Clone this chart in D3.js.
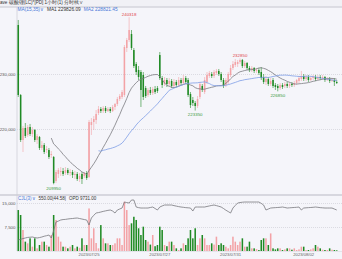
<!DOCTYPE html>
<html>
<head>
<meta charset="utf-8">
<script src="https://cdn.jsdelivr.net/npm/d3@7"></script>
<style>
body { margin: 0; background: #f5f5fa; }
svg { display: block; font-family: "Liberation Sans", Arial, sans-serif; }
</style>
</head>
<body>
<div id="chart"></div>
<script>
// hourly candles
var opens = [238910,226180,218000,220180,218910,220360,219090,219820,218000,218550,
  216550,217090,216180,216180,215270,214910,210550,211820,212180,212360,
  212000,212550,212000,212180,211640,211820,210910,211820,211450,212000,
  211270,220730,221270,221640,222910,223640,223270,223820,223270,223640,
  223270,224000,224550,225450,225820,226180,234730,236180,237270,234360,
  231820,230730,230360,229820,227450,226180,227090,226550,227270,227450,
  233450,229270,228180,228910,228180,228730,227820,228550,228000,228910,
  228360,229270,228910,226360,225270,224730,224180,225820,227820,226730,
  228550,229640,230000,229640,230180,230550,230000,228910,228000,228550,
  229820,231090,231640,231820,232180,232550,231450,232000,231090,230730,
  231090,230550,230730,230360,229450,228550,229090,228180,228910,228000,
  227820,227450,228000,227820,228180,227820,228180,228000,228360,228730,
  229090,229640,229090,229450,228910,229270,229450,229090,229450,229270,
  229450,228910,229090,228730,228910,228550];
var highs = [239820,226360,220550,221090,220730,220910,220360,220000,219090,218730,
  217820,217450,216910,216550,216000,215090,212550,212910,213090,212910,
  213090,212910,212730,212550,212360,212180,212000,212180,212180,212360,
  221640,222000,222360,223450,224180,224000,224180,224180,224000,224000,
  224360,224730,225820,226360,227090,235270,236550,240318,238000,234730,
  232180,231450,230730,230360,227820,227450,227640,227640,227820,227820,
  234000,229640,229450,229270,229270,229090,229090,228910,229450,229270,
  229820,229640,229270,226730,225820,225090,226000,228550,228180,229450,
  230360,230550,230360,230730,230910,230910,230360,229270,229270,230360,
  231640,232360,232730,232550,232850,232730,232360,232180,231450,231450,
  231270,231090,231090,231270,230000,229640,229450,229270,229270,228360,
  228180,228360,228360,228550,228550,228550,228550,228730,229090,229640,
  230550,230000,229820,229820,229640,229820,229820,229820,229820,229820,
  229640,229450,229450,229270,229270,228910];
var lows = [225820,217640,215820,218360,218550,218730,218550,217640,217270,216180,
  216180,215450,215640,214550,214730,209950,210180,211090,211450,211450,
  211640,211640,211450,211090,210910,210550,210360,210000,211090,210730,
  211090,218910,219820,220910,222550,222910,222910,222910,223090,222910,
  223090,223450,224180,225090,225450,225820,234000,235820,234360,231090,
  229820,228910,224000,225270,225640,225820,226180,226180,226360,226550,
  228910,227450,227820,227640,227820,227450,227450,227640,227640,228000,
  228000,228180,225820,223820,224180,223350,223820,225450,226730,226360,
  228180,229270,229270,229270,229820,229640,228550,227450,227640,228180,
  229450,230730,231270,231270,231820,231090,231090,230730,230360,230360,
  230180,230180,229820,228910,228180,228000,227820,227820,227450,227090,
  226850,227090,227270,227450,227450,227450,227640,227640,228000,228360,
  228730,228730,228730,228550,228730,228910,228730,228910,228910,228910,
  228550,228730,228360,228550,227820,228180];
var closes = [226180,218000,220180,218730,220360,219090,219820,218000,218730,216550,
  217090,215820,216360,214910,215450,210180,212180,212550,212360,211820,
  212550,212000,212180,211640,211820,210910,211450,210910,212000,211090,
  221270,221270,221820,222730,223640,223270,223820,223270,223640,223270,
  224000,224550,225450,226000,226730,234910,236180,238000,234730,231450,
  230360,229450,227090,225820,226000,227090,226550,227270,226730,226910,
  229270,228000,228910,228180,228730,227820,228550,228000,228910,228360,
  229270,228550,226180,224360,224730,224180,225450,228180,227090,228910,
  229820,230180,229640,230360,230550,230000,228910,227820,228910,230000,
  231090,231820,232180,232180,232550,231450,232000,231090,230730,231090,
  230550,230730,230180,229270,228550,229090,228180,228730,227820,227640,
  227450,228000,227640,228180,227820,228180,228000,228360,228910,229270,
  229640,229090,229450,228910,229270,229450,229090,229450,229270,229450,
  228910,229090,228730,228910,228550,228360];
var volumes = [12800,11250,6560,2920,2400,3960,1350,3960,830,1875,
  2920,2920,1875,1350,5000,11250,9700,4480,2920,1350,
  1350,830,1350,1875,830,1350,1000,3960,1875,1875,
  13300,3960,7100,2500,830,8100,3960,2400,2400,1875,
  1875,2400,3960,3960,1875,15400,12800,8100,8650,10700,
  9700,7100,5000,7600,3440,2920,2000,5000,1500,1875,
  7600,6560,1875,1500,2920,2920,1875,830,310,830,
  2400,1875,3960,6560,3960,7100,1875,3960,5000,3960,
  1875,1875,2400,2000,4480,1875,2400,1875,1350,830,
  1875,4480,2920,1875,2920,3960,1350,1350,2920,830,
  830,600,310,3440,3960,3960,1875,5500,830,500,
  830,830,310,500,830,830,400,830,310,500,
  1350,1350,310,310,500,830,1875,1350,830,400,
  310,310,830,400,310,200];
var openInt = [56470,56900,57300,57650,58000,58100,58230,57900,57650,57900,
  58230,58700,59000,59410,57650,62000,67060,67600,68230,68500,
  68600,68820,69000,69100,69300,69400,69100,68800,68500,68230,
  65290,69400,71000,72340,72600,72930,73300,73600,73900,74110,
  73500,72340,74110,74700,75280,78810,78500,78220,80000,80000,
  75870,75500,75280,75280,75280,75280,75600,75870,75000,74110,
  75870,76500,77050,77050,77050,77050,76700,76400,76100,75870,
  75700,75500,75400,75280,73520,75870,75870,75870,75870,75870,
  76200,76500,76800,77050,76700,76300,75870,75000,74000,73200,
  72340,75280,76800,78220,78500,78700,78810,78810,78810,78810,
  78810,78810,78810,78000,77050,74110,74700,75280,75400,75500,
  75600,75700,75870,75600,75280,75400,75500,75600,75700,75870,
  74110,75280,75400,75500,75600,75700,75870,75700,75500,75400,
  75280,75280,75280,75280,74700,74110];

var priceTicks = [220000, 230000];
var volTicks = [7500, 15000];
var dateIdx = [30, 60, 90, 121];
var dateLabels = ["2023/07/25", "2023/07/27", "2023/07/31", "2023/08/02"];
var highMarks = [47, 94];
var lowMarks = [15, 75, 110];

var W = 342, H = 259;
var upColor = "#f3a2a6", downColor = "#1f8a24";
var N = closes.length;

var svg = d3.select("#chart").append("svg")
    .attr("width", W)
    .attr("height", H);

svg.append("rect").attr("width", W).attr("height", H).attr("fill", "#f5f5fa");

// top bar
svg.append("rect").attr("width", W).attr("height", 6.5).attr("fill", "#f1f1f6");
svg.append("line").attr("x1", 0).attr("x2", W).attr("y1", 7).attr("y2", 7)
    .attr("stroke", "#d5d5dd").attr("stroke-width", 1.3);
svg.append("text").attr("x", 0).attr("y", 4.2)
    .attr("font-size", "4.6px").attr("fill", "#333")
    .text("ave 碳酸锂(LC)*[PD]  1小时(1)   分时线∨");

var x = d3.scaleBand()
    .domain(d3.range(N))
    .range([17.5, 337.5])
    .paddingInner(0.35);
var bw = x.bandwidth();
var cx = function(i) { return x(i) + bw / 2; };

var y = d3.scaleLinear().domain([210000, 230000]).range([184, 74]);
var yv = d3.scaleLinear().domain([0, 15000]).range([251, 203]);
var yo = d3.scaleLinear().domain([50000, 80000]).range([251, 200]);

// grid lines
function grid(scale, ticks) {
    var gg = svg.append("g").attr("transform", "translate(17,0)")
        .call(d3.axisRight(scale).tickValues(ticks).tickSize(W - 17).tickFormat(""));
    gg.select(".domain").remove();
    gg.selectAll("line").attr("stroke", "#c9c9d2").attr("stroke-width", 0.6)
        .attr("stroke-dasharray", "1,1");
}
grid(y, priceTicks);
grid(yv, volTicks);

// axis labels
function labels(scale, ticks) {
    var ga = svg.append("g").attr("transform", "translate(16,0)")
        .call(d3.axisLeft(scale).tickValues(ticks).tickSize(0).tickPadding(0.5));
    ga.select(".domain").remove();
    ga.selectAll("text").attr("font-size", "4.4px").attr("fill", "#555")
        .attr("font-family", "Liberation Sans, Arial, sans-serif");
}
labels(y, priceTicks);
labels(yv, volTicks);

// panel frame
svg.append("line").attr("x1", 17).attr("x2", 17).attr("y1", 7).attr("y2", 251)
    .attr("stroke", "#cfcfd8").attr("stroke-width", 0.8);
svg.append("line").attr("x1", 0).attr("x2", W).attr("y1", 195).attr("y2", 195)
    .attr("stroke", "#cdcdd6").attr("stroke-width", 1.4);
svg.append("line").attr("x1", 17).attr("x2", W).attr("y1", 251.5).attr("y2", 251.5)
    .attr("stroke", "#d8d8e0").attr("stroke-width", 0.6);

// MA header
var hdr = svg.append("text").attr("y", 10.6).attr("font-size", "4.8px");
hdr.append("tspan").attr("x", 17.5).attr("fill", "#4a78d8").text("MA(15,35)∨");
hdr.append("tspan").attr("dx", 3).attr("fill", "#333").text("MA1 229826.09");
hdr.append("tspan").attr("dx", 3).attr("fill", "#4a78d8").text("MA2 228821.45");

// candles
var up = function(i) { return closes[i] >= opens[i]; };
var cg = svg.append("g");
cg.selectAll("line").data(d3.range(N)).join("line")
    .attr("x1", cx).attr("x2", cx)
    .attr("y1", function(i) { return y(highs[i]); })
    .attr("y2", function(i) { return y(lows[i]); })
    .attr("stroke", function(i) { return up(i) ? upColor : downColor; })
    .attr("stroke-width", 0.6);
cg.selectAll("rect").data(d3.range(N)).join("rect")
    .attr("x", function(i) { return x(i); })
    .attr("width", bw)
    .attr("y", function(i) { return y(Math.max(opens[i], closes[i])); })
    .attr("height", function(i) { return Math.max(0.7, Math.abs(y(opens[i]) - y(closes[i]))); })
    .attr("fill", function(i) { return up(i) ? upColor : downColor; });

// moving averages of the closes
function movingAvg(n) {
    return closes.map(function(c, i) {
        return i < n - 1 ? null : d3.mean(closes.slice(i - n + 1, i + 1));
    });
}
var maLine = d3.line()
    .defined(function(d) { return d != null; })
    .x(function(d, i) { return cx(i); })
    .y(function(d) { return y(d); });
svg.append("path").datum(movingAvg(15)).attr("d", maLine)
    .attr("fill", "none").attr("stroke", "#7b7b80").attr("stroke-width", 0.8);
svg.append("path").datum(movingAvg(35)).attr("d", maLine)
    .attr("fill", "none").attr("stroke", "#7d9de6").attr("stroke-width", 0.8);

// high / low marks
svg.selectAll(".hi").data(highMarks).join("text")
    .attr("x", cx).attr("y", function(i) { return y(highs[i]) - 1; })
    .attr("text-anchor", "middle").attr("font-size", "4.4px").attr("fill", "#e0454a")
    .text(function(i) { return highs[i]; });
svg.selectAll(".lo").data(lowMarks).join("text")
    .attr("x", cx).attr("y", function(i) { return y(lows[i]) + 5.5; })
    .attr("text-anchor", "middle").attr("font-size", "4.4px").attr("fill", "#3a9a3e")
    .text(function(i) { return lows[i]; });

// volume header
var vh = svg.append("text").attr("y", 200.3).attr("font-size", "4.5px");
vh.append("tspan").attr("x", 18).attr("fill", "#4a78d8").text("CJL(3)∨");
vh.append("tspan").attr("dx", 3).attr("fill", "#333").text("550.00|44.58|");
vh.append("tspan").attr("dx", 3).attr("fill", "#333").text("OPD 9731.00");

// volume bars
svg.append("g").selectAll("rect").data(d3.range(N)).join("rect")
    .attr("x", function(i) { return x(i); })
    .attr("width", bw)
    .attr("y", function(i) { return yv(volumes[i]); })
    .attr("height", function(i) { return yv(0) - yv(volumes[i]); })
    .attr("fill", function(i) { return up(i) ? upColor : downColor; });

// open interest line
svg.append("path").datum(openInt)
    .attr("d", d3.line().x(function(d, i) { return cx(i); }).y(function(d) { return yo(d); }))
    .attr("fill", "none").attr("stroke", "#77777c").attr("stroke-width", 0.8);

// date axis
var gx = svg.append("g").attr("transform", "translate(0,251.5)")
    .call(d3.axisBottom(x).tickValues(dateIdx).tickSize(0).tickPadding(1.5)
        .tickFormat(function(d, k) { return dateLabels[k]; }));
gx.select(".domain").remove();
gx.selectAll("text").attr("font-size", "4.2px").attr("fill", "#666")
    .attr("font-family", "Liberation Sans, Arial, sans-serif");
</script>
</body>
</html>
